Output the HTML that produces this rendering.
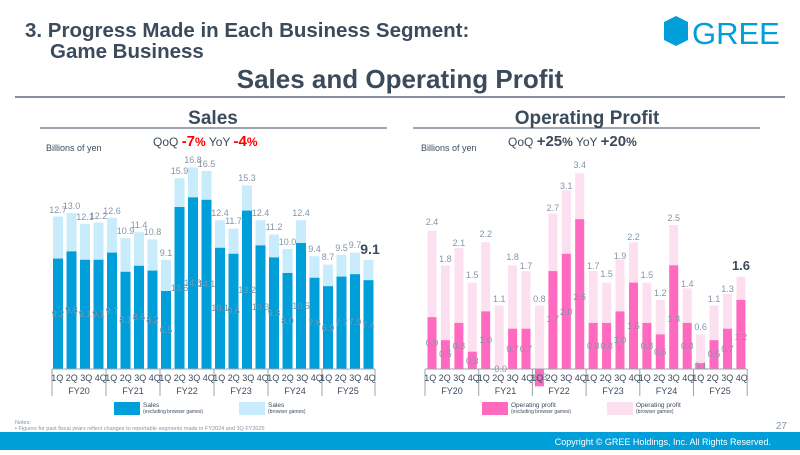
<!DOCTYPE html>
<html><head><meta charset="utf-8"><style>
body{margin:0;width:800px;height:450px;overflow:hidden;background:#fff;font-family:"Liberation Sans",sans-serif}
</style></head><body>
<svg width="800" height="450" viewBox="0 0 800 450" xmlns="http://www.w3.org/2000/svg" font-family="Liberation Sans, sans-serif">
<text x="25" y="37" font-size="20.5" font-weight="bold" fill="#3c4b5c">3. Progress Made in Each Business Segment:</text>
<text x="50" y="58" font-size="20.5" font-weight="bold" fill="#3c4b5c">Game Business</text>
<polygon points="676,16 688,22 688,40 676,46 664,40 664,22" fill="#009fd9"/>
<text x="692" y="44" font-size="31" fill="#009fd9">GREE</text>
<text x="400" y="88" font-size="26" font-weight="bold" fill="#3c4b5c" text-anchor="middle">Sales and Operating Profit</text>
<line x1="15" y1="97" x2="785" y2="97" stroke="#3c4b5c" stroke-width="1.2"/>
<text x="213" y="124" font-size="19" font-weight="bold" fill="#3c4b5c" text-anchor="middle">Sales</text>
<line x1="40" y1="128" x2="387" y2="128" stroke="#3c4b5c" stroke-width="1"/>
<text x="587" y="124" font-size="19" font-weight="bold" fill="#3c4b5c" text-anchor="middle">Operating Profit</text>
<line x1="413" y1="128" x2="760" y2="128" stroke="#3c4b5c" stroke-width="1"/>
<text x="46" y="151" font-size="9" fill="#3c4b5c">Billions of yen</text>
<text x="153" y="146" font-size="12" fill="#3c4b5c">QoQ <tspan fill="#f00" font-weight="bold" font-size="15">-7</tspan><tspan fill="#f00" font-weight="bold">%</tspan> YoY <tspan fill="#f00" font-weight="bold" font-size="15">-4</tspan><tspan fill="#f00" font-weight="bold">%</tspan></text>
<text x="421" y="151" font-size="9" fill="#3c4b5c">Billions of yen</text>
<text x="508" y="146" font-size="12" fill="#3c4b5c">QoQ <tspan font-weight="bold" font-size="15">+25</tspan><tspan font-weight="bold">%</tspan> YoY <tspan font-weight="bold" font-size="15">+20</tspan><tspan font-weight="bold">%</tspan></text>

<g fill="#c8ecfb">
<rect x="53" y="216.6" width="10" height="152.4"/><rect x="66.5" y="213" width="10" height="156"/><rect x="80" y="223.8" width="10" height="145.2"/><rect x="93.5" y="222.6" width="10" height="146.4"/>
<rect x="107" y="217.8" width="10" height="151.2"/><rect x="120.5" y="238.2" width="10" height="130.8"/><rect x="134" y="232.2" width="10" height="136.8"/><rect x="147.5" y="239.4" width="10" height="129.6"/>
<rect x="161" y="259.8" width="10" height="109.2"/><rect x="174.5" y="178.2" width="10" height="190.8"/><rect x="188" y="167.4" width="10" height="201.6"/><rect x="201.5" y="171" width="10" height="198"/>
<rect x="215" y="220.2" width="10" height="148.8"/><rect x="228.5" y="228.6" width="10" height="140.4"/><rect x="242" y="185.4" width="10" height="183.6"/><rect x="255.5" y="220.2" width="10" height="148.8"/>
<rect x="269" y="234.6" width="10" height="134.4"/><rect x="282.5" y="249" width="10" height="120"/><rect x="296" y="220.2" width="10" height="148.8"/><rect x="309.5" y="256.2" width="10" height="112.8"/>
<rect x="323" y="264.6" width="10" height="104.4"/><rect x="336.5" y="255" width="10" height="114"/><rect x="350" y="252.6" width="10" height="116.4"/><rect x="363.5" y="259.8" width="10" height="109.2"/>
</g>
<g fill="#009fd9">
<rect x="53" y="258.6" width="10" height="110.4"/><rect x="66.5" y="251.4" width="10" height="117.6"/><rect x="80" y="259.8" width="10" height="109.2"/><rect x="93.5" y="259.8" width="10" height="109.2"/>
<rect x="107" y="252.6" width="10" height="116.4"/><rect x="120.5" y="271.8" width="10" height="97.2"/><rect x="134" y="265.8" width="10" height="103.2"/><rect x="147.5" y="270.6" width="10" height="98.4"/>
<rect x="161" y="291" width="10" height="78"/><rect x="174.5" y="207" width="10" height="162"/><rect x="188" y="197.4" width="10" height="171.6"/><rect x="201.5" y="199.8" width="10" height="169.2"/>
<rect x="215" y="247.8" width="10" height="121.2"/><rect x="228.5" y="253.8" width="10" height="115.2"/><rect x="242" y="210.6" width="10" height="158.4"/><rect x="255.5" y="245.4" width="10" height="123.6"/>
<rect x="269" y="257.4" width="10" height="111.6"/><rect x="282.5" y="273" width="10" height="96"/><rect x="296" y="243" width="10" height="126"/><rect x="309.5" y="277.8" width="10" height="91.2"/>
<rect x="323" y="286.2" width="10" height="82.8"/><rect x="336.5" y="276.6" width="10" height="92.4"/><rect x="350" y="274.2" width="10" height="94.8"/><rect x="363.5" y="280.2" width="10" height="88.8"/>
</g>
<g font-size="9" fill="#8494a8" text-anchor="middle">
<text x="58" y="213">12.7</text><text x="71.5" y="209">13.0</text><text x="85" y="220">12.1</text><text x="98.5" y="219">12.2</text>
<text x="112" y="214">12.6</text><text x="125.5" y="234">10.9</text><text x="139" y="228">11.4</text><text x="152.5" y="235">10.8</text>
<text x="166" y="256">9.1</text><text x="179.5" y="174">15.9</text><text x="193" y="163">16.8</text><text x="206.5" y="167">16.5</text>
<text x="220" y="216">12.4</text><text x="233.5" y="224">11.7</text><text x="247" y="181">15.3</text><text x="260.5" y="216">12.4</text>
<text x="274" y="230">11.2</text><text x="287.5" y="245">10.0</text><text x="301" y="216">12.4</text><text x="314.5" y="252">9.4</text>
<text x="328" y="260">8.7</text><text x="341.5" y="251">9.5</text><text x="355" y="248">9.7</text>
<text x="58" y="317">9.2</text><text x="71.5" y="313">9.8</text><text x="85" y="317">9.1</text><text x="98.5" y="317">9.1</text>
<text x="112" y="314">9.7</text><text x="125.5" y="323">8.1</text><text x="139" y="320">8.6</text><text x="152.5" y="323">8.2</text>
<text x="166" y="333">6.5</text><text x="179.5" y="291">13.5</text><text x="193" y="286">14.3</text><text x="206.5" y="287">14.1</text>
<text x="220" y="311">10.1</text><text x="233.5" y="314">9.6</text><text x="247" y="293">13.2</text><text x="260.5" y="310">10.3</text>
<text x="274" y="316">9.3</text><text x="287.5" y="324">8.0</text><text x="301" y="309">10.5</text><text x="314.5" y="326">7.6</text>
<text x="328" y="331">6.9</text><text x="341.5" y="326">7.7</text><text x="355" y="325">7.9</text><text x="368.5" y="328">7.4</text>
</g>
<text x="370" y="254" font-size="14" font-weight="bold" fill="#3c4b5c" text-anchor="middle">9.1</text>
<g stroke="#9aa4ae" stroke-width="1">
<line x1="52" y1="369" x2="375" y2="369"/>
<line x1="52" y1="369" x2="52" y2="396"/><line x1="106" y1="369" x2="106" y2="396"/><line x1="160" y1="369" x2="160" y2="396"/><line x1="214" y1="369" x2="214" y2="396"/><line x1="268" y1="369" x2="268" y2="396"/><line x1="322" y1="369" x2="322" y2="396"/><line x1="375" y1="369" x2="375" y2="396"/>
</g>
<g font-size="9" fill="#3c4b5c" text-anchor="middle">
<text x="79" y="381">1Q 2Q 3Q 4Q</text><text x="133" y="381">1Q 2Q 3Q 4Q</text><text x="187" y="381">1Q 2Q 3Q 4Q</text><text x="241" y="381">1Q 2Q 3Q 4Q</text><text x="295" y="381">1Q 2Q 3Q 4Q</text><text x="348" y="381">1Q 2Q 3Q 4Q</text>
<text x="79" y="394">FY20</text><text x="133" y="394">FY21</text><text x="187" y="394">FY22</text><text x="241" y="394">FY23</text><text x="295" y="394">FY24</text><text x="348" y="394">FY25</text>
</g>

<g fill="#fde0f0">
<rect x="427.5" y="230.8" width="9" height="138.2"/><rect x="440.9" y="265.3" width="9" height="103.7"/><rect x="454.4" y="248" width="9" height="121"/><rect x="467.8" y="282.6" width="9" height="86.4"/>
<rect x="481.2" y="242.3" width="9" height="126.7"/><rect x="494.7" y="305.6" width="9" height="63.4"/><rect x="508.1" y="265.3" width="9" height="103.7"/><rect x="521.5" y="271.1" width="9" height="97.9"/>
<rect x="534.9" y="305.6" width="9" height="63.4"/><rect x="548.4" y="213.5" width="9" height="155.5"/><rect x="561.8" y="190.4" width="9" height="178.6"/><rect x="575.2" y="173.2" width="9" height="195.8"/>
<rect x="588.7" y="271.1" width="9" height="97.9"/><rect x="602.1" y="282.6" width="9" height="86.4"/><rect x="615.5" y="259.6" width="9" height="109.4"/><rect x="629" y="242.3" width="9" height="126.7"/>
<rect x="642.4" y="282.6" width="9" height="86.4"/><rect x="655.8" y="299.9" width="9" height="69.1"/><rect x="669.2" y="225" width="9" height="144"/><rect x="682.7" y="288.4" width="9" height="80.6"/>
<rect x="696.1" y="334.4" width="9" height="34.6"/><rect x="709.5" y="305.6" width="9" height="63.4"/><rect x="723" y="294.1" width="9" height="74.9"/><rect x="736.4" y="276.8" width="9" height="92.2"/>
</g>
<g fill="#ff69c0">
<rect x="427.5" y="317.2" width="9" height="51.8"/><rect x="440.9" y="340.2" width="9" height="28.8"/><rect x="454.4" y="322.9" width="9" height="46.1"/><rect x="467.8" y="351.7" width="9" height="17.3"/>
<rect x="481.2" y="311.4" width="9" height="57.6"/><rect x="508.1" y="328.7" width="9" height="40.3"/><rect x="521.5" y="328.7" width="9" height="40.3"/>
<rect x="534.9" y="369" width="9" height="17.3"/><rect x="548.4" y="271.1" width="9" height="97.9"/><rect x="561.8" y="253.8" width="9" height="115.2"/><rect x="575.2" y="219.2" width="9" height="149.8"/>
<rect x="588.7" y="322.9" width="9" height="46.1"/><rect x="602.1" y="322.9" width="9" height="46.1"/><rect x="615.5" y="311.4" width="9" height="57.6"/><rect x="629" y="282.6" width="9" height="86.4"/>
<rect x="642.4" y="322.9" width="9" height="46.1"/><rect x="655.8" y="334.4" width="9" height="34.6"/><rect x="669.2" y="265.3" width="9" height="103.7"/><rect x="682.7" y="322.9" width="9" height="46.1"/>
<rect x="696.1" y="363.2" width="9" height="5.8"/><rect x="709.5" y="340.2" width="9" height="28.8"/><rect x="723" y="328.7" width="9" height="40.3"/><rect x="736.4" y="299.9" width="9" height="69.1"/>
</g>
<g font-size="9" fill="#8494a8" text-anchor="middle">
<text x="432" y="225">2.4</text><text x="445.4" y="262">1.8</text><text x="458.9" y="246">2.1</text><text x="472.3" y="278">1.5</text>
<text x="485.7" y="237">2.2</text><text x="499.2" y="302">1.1</text><text x="512.6" y="260">1.8</text><text x="526" y="269">1.7</text>
<text x="539.4" y="302">0.8</text><text x="552.9" y="211">2.7</text><text x="566.3" y="189">3.1</text><text x="579.7" y="168">3.4</text>
<text x="593.2" y="269">1.7</text><text x="606.6" y="277">1.5</text><text x="620" y="259">1.9</text><text x="633.5" y="240">2.2</text>
<text x="646.9" y="278">1.5</text><text x="660.3" y="296">1.2</text><text x="673.7" y="221">2.5</text><text x="687.2" y="287">1.4</text>
<text x="700.6" y="330">0.6</text><text x="714" y="302">1.1</text><text x="727.5" y="292">1.3</text>
<text x="432" y="346">0.9</text><text x="445.4" y="357">0.5</text><text x="458.9" y="349">0.8</text><text x="472.3" y="364">0.3</text>
<text x="485.7" y="343">1.0</text><text x="499.2" y="372">-0.0</text><text x="512.6" y="352">0.7</text><text x="526" y="352">0.7</text>
<text x="539.4" y="380">-0.3</text><text x="552.9" y="322">1.7</text><text x="566.3" y="315">2.0</text><text x="579.7" y="300">2.6</text>
<text x="593.2" y="349">0.8</text><text x="606.6" y="349">0.8</text><text x="620" y="343">1.0</text><text x="633.5" y="329">1.5</text>
<text x="646.9" y="349">0.8</text><text x="660.3" y="355">0.6</text><text x="673.7" y="322">1.8</text><text x="687.2" y="349">0.8</text>
<text x="700.6" y="369">0.1</text><text x="714" y="357">0.5</text><text x="727.5" y="352">0.7</text><text x="740.9" y="340">1.2</text>
</g>
<text x="741" y="270" font-size="13" font-weight="bold" fill="#3c4b5c" text-anchor="middle">1.6</text>
<g stroke="#9aa4ae" stroke-width="1">
<line x1="425" y1="369" x2="747" y2="369"/>
<line x1="425" y1="369" x2="425" y2="396"/><line x1="478.7" y1="369" x2="478.7" y2="396"/><line x1="532.4" y1="369" x2="532.4" y2="396"/><line x1="586.1" y1="369" x2="586.1" y2="396"/><line x1="639.8" y1="369" x2="639.8" y2="396"/><line x1="693.5" y1="369" x2="693.5" y2="396"/><line x1="747.2" y1="369" x2="747.2" y2="396"/>
</g>
<g font-size="9" fill="#3c4b5c" text-anchor="middle">
<text x="452" y="381">1Q 2Q 3Q 4Q</text><text x="505.5" y="381">1Q 2Q 3Q 4Q</text><text x="559" y="381">1Q 2Q 3Q 4Q</text><text x="613" y="381">1Q 2Q 3Q 4Q</text><text x="666.5" y="381">1Q 2Q 3Q 4Q</text><text x="720" y="381">1Q 2Q 3Q 4Q</text>
<text x="452" y="394">FY20</text><text x="505.5" y="394">FY21</text><text x="559" y="394">FY22</text><text x="613" y="394">FY23</text><text x="666.5" y="394">FY24</text><text x="720" y="394">FY25</text>
</g>

<rect x="114" y="402" width="26" height="13" fill="#009fd9"/>
<text x="143" y="407" font-size="6.5" fill="#3c4b5c">Sales</text><text x="143" y="413" font-size="5" fill="#3c4b5c">(excluding browser games)</text>
<rect x="239" y="402" width="26" height="13" fill="#c8ecfb"/>
<text x="268" y="407" font-size="6.5" fill="#3c4b5c">Sales</text><text x="268" y="413" font-size="5" fill="#3c4b5c">(browser games)</text>
<rect x="482" y="402" width="26" height="13" fill="#ff69c0"/>
<text x="511" y="407" font-size="6.5" fill="#3c4b5c">Operating profit</text><text x="511" y="413" font-size="5" fill="#3c4b5c">(excluding browser games)</text>
<rect x="607" y="402" width="26" height="13" fill="#fde0f0"/>
<text x="636" y="407" font-size="6.5" fill="#3c4b5c">Operating profit</text><text x="636" y="413" font-size="5" fill="#3c4b5c">(browser games)</text>

<text x="15" y="424" font-size="5.5" fill="#8494a8">Notes:</text>
<text x="15" y="430" font-size="5.5" fill="#8494a8">▪ Figures for past fiscal years reflect changes to reportable segments made in FY2024 and 3Q FY2025</text>
<text x="787" y="429" font-size="10" fill="#8494a8" text-anchor="end">27</text>
<rect x="0" y="432" width="800" height="18" fill="#009fd9"/>
<text x="771" y="445" font-size="9" fill="#fff" text-anchor="end">Copyright © GREE Holdings, Inc. All Rights Reserved.</text>
</svg>
</body></html>
